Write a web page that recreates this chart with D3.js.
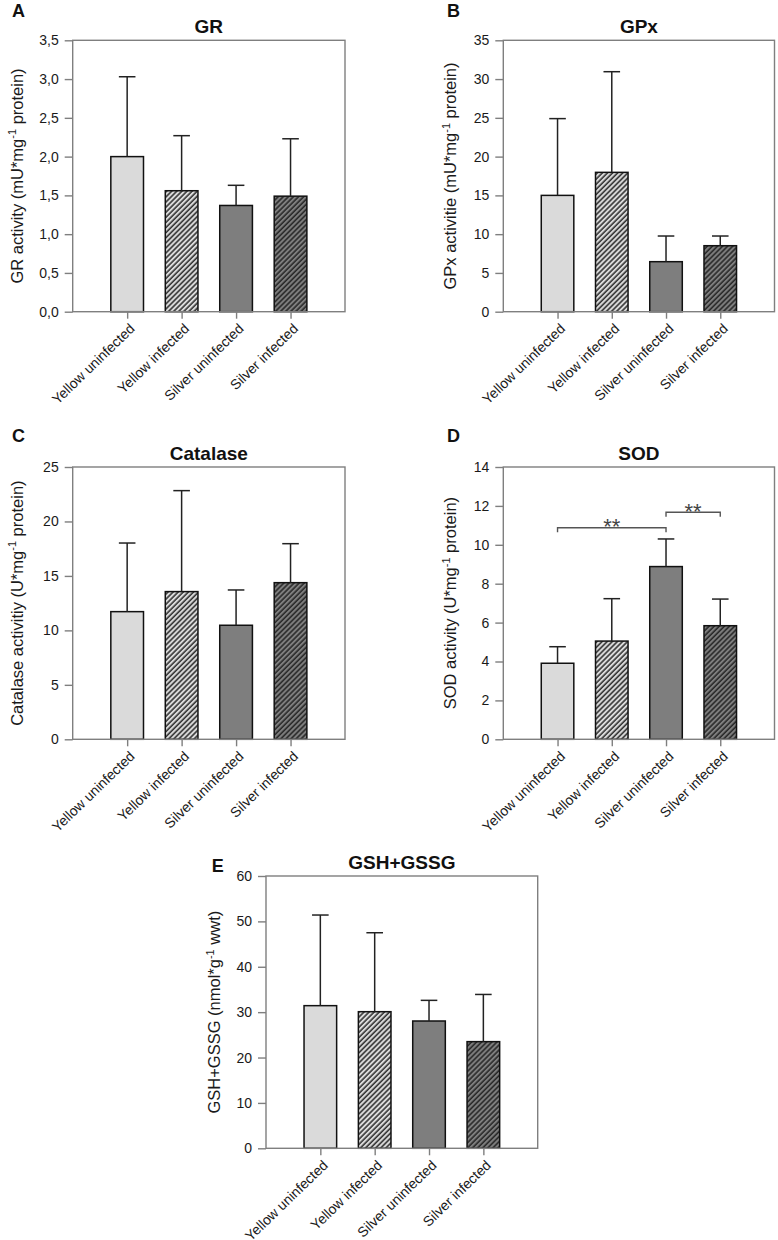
<!DOCTYPE html>
<html><head><meta charset="utf-8">
<script src="https://cdn.jsdelivr.net/npm/d3@7"></script>
<style>body{margin:0;background:#fff}svg{display:block}text{font-family:"Liberation Sans",Arial,sans-serif}</style>
</head><body>
<script>
// ---------- data ----------
const categories = ["Yellow uninfected", "Yellow infected", "Silver uninfected", "Silver infected"];

const grMean = [2.00, 1.56, 1.37, 1.49];
const grSD   = [1.03, 0.71, 0.26, 0.74];
const grTicks = [0, 0.5, 1.0, 1.5, 2.0, 2.5, 3.0, 3.5];

const gpxMean = [15.0, 17.97, 6.45, 8.51];
const gpxSD   = [9.9, 12.98, 3.31, 1.25];
const gpxTicks = [0, 5, 10, 15, 20, 25, 30, 35];

const catMean = [11.72, 13.56, 10.47, 14.38];
const catSD   = [6.30, 9.27, 3.24, 3.58];
const catTicks = [0, 5, 10, 15, 20, 25];

const sodMean = [3.91, 5.05, 8.88, 5.84];
const sodSD   = [0.85, 2.18, 1.42, 1.37];
const sodTicks = [0, 2, 4, 6, 8, 10, 12, 14];
// significance brackets: [from category index, to category index, level, label]
const sodSig = [[0, 2, 10.88, "**"], [2, 3, 11.67, "**"]];

const gshMean = [31.43, 30.10, 28.05, 23.50];
const gshSD   = [19.97, 17.40, 4.55, 10.40];
const gshTicks = [0, 10, 20, 30, 40, 50, 60];

// ---------- drawing ----------
const W = 778, H = 1240;
const svg = d3.select("body").append("svg").attr("width", W).attr("height", H);
svg.append("rect").attr("width", W).attr("height", H).attr("fill", "#fff");

const defs = svg.append("defs");
function hatch(id, bg, fg) {
  const p = defs.append("pattern").attr("id", id)
    .attr("patternUnits", "userSpaceOnUse")
    .attr("width", 3.6).attr("height", 10)
    .attr("patternTransform", "rotate(45)");
  p.append("rect").attr("width", 3.6).attr("height", 10).attr("fill", bg);
  p.append("line").attr("x1", 1).attr("x2", 1).attr("y1", 0).attr("y2", 10)
    .attr("stroke", fg).attr("stroke-width", 1.4);
}
hatch("hatchLight", "#dadada", "#1e1e1e");
hatch("hatchDark", "#7e7e7e", "#1e1e1e");
const fills = ["#dadada", "url(#hatchLight)", "#7e7e7e", "url(#hatchDark)"];

const axisCol = "#7f7f7f";
const textCol = "#1a1a1a";

function panel(cfg) {
  const g = svg.append("g");
  const x = d3.scaleLinear().domain([0, 5]).range([cfg.left, cfg.right]);
  const y = d3.scaleLinear().domain([0, cfg.max]).range([cfg.bottom, cfg.top]);
  const bw = 0.6 * (x(1) - x(0));
  const fmt = cfg.fmt || (d => d3.format("d")(d));

  // bars
  g.selectAll("rect.bar").data(cfg.mean).join("rect").attr("class", "bar")
    .attr("x", (d, i) => x(i + 1) - bw / 2)
    .attr("y", d => y(d))
    .attr("width", bw)
    .attr("height", d => y(0) - y(d))
    .attr("fill", (d, i) => fills[i])
    .attr("stroke", "#111").attr("stroke-width", 1.5);

  // error bars (upper only)
  const eb = g.selectAll("g.err").data(cfg.mean).join("g").attr("class", "err");
  eb.append("line")
    .attr("x1", (d, i) => x(i + 1)).attr("x2", (d, i) => x(i + 1))
    .attr("y1", d => y(d)).attr("y2", (d, i) => y(d + cfg.sd[i]))
    .attr("stroke", "#222").attr("stroke-width", 1.5);
  eb.append("line")
    .attr("x1", (d, i) => x(i + 1) - 8.3).attr("x2", (d, i) => x(i + 1) + 8.3)
    .attr("y1", (d, i) => y(d + cfg.sd[i])).attr("y2", (d, i) => y(d + cfg.sd[i]))
    .attr("stroke", "#222").attr("stroke-width", 1.5);

  // frame
  g.append("rect").attr("x", cfg.left).attr("y", cfg.top)
    .attr("width", cfg.right - cfg.left).attr("height", cfg.bottom - cfg.top)
    .attr("fill", "none").attr("stroke", axisCol).attr("stroke-width", 1.4);

  // y axis
  const ya = g.append("g").attr("transform", `translate(${cfg.left},0)`)
    .call(d3.axisLeft(y).tickValues(cfg.ticks).tickSize(8).tickPadding(6).tickFormat(fmt));
  ya.select(".domain").remove();
  ya.selectAll("line").attr("stroke", axisCol).attr("stroke-width", 1.4);
  ya.selectAll("text").attr("font-size", 14).attr("fill", textCol);

  // x axis
  const xa = g.append("g").attr("transform", `translate(0,${cfg.bottom})`)
    .call(d3.axisBottom(x).tickValues([1, 2, 3, 4]).tickSize(7).tickFormat(i => categories[i - 1]));
  xa.select(".domain").remove();
  xa.selectAll("line").attr("stroke", axisCol).attr("stroke-width", 1.4);
  xa.selectAll("text").attr("font-size", 14).attr("fill", textCol)
    .attr("text-anchor", "end").attr("dy", null).attr("y", null)
    .attr("transform", "translate(8,18) rotate(-44)");

  // y label
  const yl = g.append("text")
    .attr("transform", `translate(${cfg.left - cfg.labelOff},${(cfg.top + cfg.bottom) / 2}) rotate(-90)`)
    .attr("text-anchor", "middle").attr("font-size", 16.5).attr("fill", textCol);
  yl.append("tspan").text(cfg.label[0]);
  yl.append("tspan").attr("dy", -6.5).attr("font-size", 11).text("-1");
  yl.append("tspan").attr("dy", 6.5).text(cfg.label[1]);

  // title
  g.append("text").attr("x", (cfg.left + cfg.right) / 2).attr("y", cfg.top - 7)
    .attr("text-anchor", "middle").attr("font-size", 19).attr("font-weight", "bold")
    .attr("fill", "#111").text(cfg.title);

  // panel letter
  g.append("text").attr("x", cfg.letterX).attr("y", cfg.letterY)
    .attr("font-size", 18).attr("font-weight", "bold").attr("fill", "#111").text(cfg.letter);

  // significance
  if (cfg.sig) {
    cfg.sig.forEach(s => {
      const x1 = x(s[0] + 1), x2 = x(s[1] + 1), yy = y(s[2]);
      g.append("path").attr("d", `M${x1},${yy + 4.5}V${yy}H${x2}V${yy + 4.5}`)
        .attr("fill", "none").attr("stroke", "#555").attr("stroke-width", 1.4);
      g.append("text").attr("x", (x1 + x2) / 2).attr("y", yy + 6.5)
        .attr("text-anchor", "middle").attr("font-size", 22).attr("fill", "#444").text(s[3]);
    });
  }
}

const commaFmt = d => d3.format(".1f")(d).replace(".", ",");

panel({ left: 72.7, right: 345, top: 40.3, bottom: 311.7, max: 3.5, ticks: grTicks, fmt: commaFmt,
  mean: grMean, sd: grSD, title: "GR", letter: "A", letterX: 12, letterY: 16.7, labelOff: 50,
  label: ["GR activity (mU*mg", " protein)"] });
panel({ left: 503.3, right: 774.5, top: 40.3, bottom: 311.7, max: 35, ticks: gpxTicks,
  mean: gpxMean, sd: gpxSD, title: "GPx", letter: "B", letterX: 447, letterY: 16.7, labelOff: 47,
  label: ["GPx activitie (mU*mg", " protein)"] });
panel({ left: 72.7, right: 345, top: 467, bottom: 739.3, max: 25, ticks: catTicks,
  mean: catMean, sd: catSD, title: "Catalase", letter: "C", letterX: 12, letterY: 441.7, labelOff: 50,
  label: ["Catalase activitiy (U*mg", " protein)"] });
panel({ left: 503.3, right: 774.5, top: 467, bottom: 739.3, max: 14, ticks: sodTicks,
  mean: sodMean, sd: sodSD, title: "SOD", letter: "D", letterX: 447, letterY: 441.7, labelOff: 47,
  label: ["SOD activity (U*mg", " protein)"], sig: sodSig });
panel({ left: 266, right: 537.7, top: 876, bottom: 1148.3, max: 60, ticks: gshTicks,
  mean: gshMean, sd: gshSD, title: "GSH+GSSG", letter: "E", letterX: 211.7, letterY: 871.7, labelOff: 46,
  label: ["GSH+GSSG (nmol*g", " wwt)"] });
</script>
</body></html>
